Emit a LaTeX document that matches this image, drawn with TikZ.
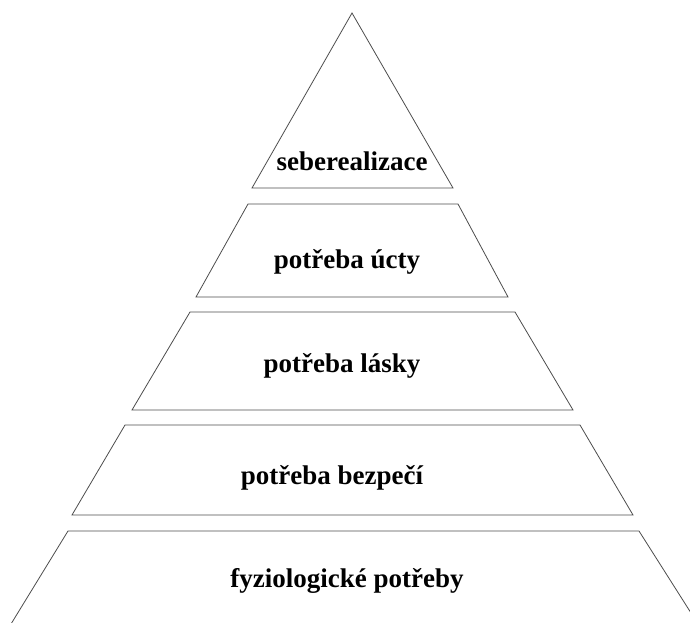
\documentclass[tikz,border=0pt]{standalone}
\usepackage{fontspec}
\setmainfont{Liberation Serif}
\usepackage{tikz}

\tikzset{
  layer/.style={draw=black!70, line width=0.8pt, line join=miter},
  need/.style={font=\fontsize{27}{30}\selectfont\bfseries, anchor=base, inner sep=0pt}
}

\begin{document}
\begin{tikzpicture}[x=1pt, y=-1pt]
    \useasboundingbox (0,0) rectangle (690,623);
    \clip (0,0) rectangle (690,623);

    % Top (triangle)
    \draw[layer] (352,13) -- (453,188) -- (252,188) -- cycle;
    \node[need] (self) at (352,170) {seberealizace};

    % Layers
    \draw[layer] (248,204) -- (458,204) -- (508,297) -- (196,297) -- cycle;
    \node[need] (esteem) at (347,268) {potřeba úcty};

    \draw[layer] (190,312) -- (515,312) -- (573,410) -- (132,410) -- cycle;
    \node[need] (love) at (342,372) {potřeba lásky};

    \draw[layer] (125,425) -- (580,425) -- (633,515) -- (72,515) -- cycle;
    \node[need] (safety) at (332,484) {potřeba bezpečí};

    % Bottom (runs off the page)
    \draw[layer] (11,624) -- (68,531) -- (639,531) -- (698,624);
    \node[need] (body) at (347,587) {fyziologické potřeby};
\end{tikzpicture}
\end{document}
